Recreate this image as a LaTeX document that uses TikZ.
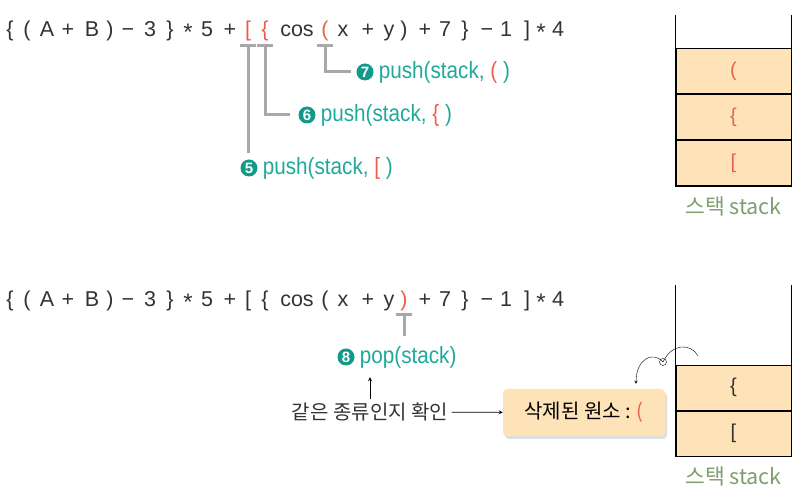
\documentclass[tikz,border=0pt]{standalone}
\usepackage{fontspec}
\setmainfont{Liberation Sans}
\newfontfamily\krfont{Noto Sans CJK KR}
\newfontfamily\condfont[FakeStretch=0.88]{Liberation Sans}
\usepackage{xcolor}
\definecolor{bRed}{HTML}{E8604C}
\definecolor{bTeal}{HTML}{1FA99B}
\definecolor{bDarkTeal}{HTML}{11998A}
\definecolor{bGray}{HTML}{A7A8AA}
\definecolor{bFill}{HTML}{FDE3B7}
\definecolor{bSage}{HTML}{7F9D6F}
\definecolor{bText}{HTML}{333333}
\usepackage{tikz}
\usetikzlibrary{positioning,shadows,arrows,arrows.meta}

\newcommand\tmul{\raisebox{-0.18em}{\fontsize{24}{24}\selectfont*}}

\begin{document}
\begin{tikzpicture}[
            x=1pt, y=-1pt,
            expr/.style={
                anchor=base,
                inner sep=0pt,
                text height=16pt,
                text depth=5pt,
                font=\fontsize{21.5}{24}\selectfont,
                text=bText
            },
            hot/.style={text=bRed},
            tline/.style={
                {Bar[width=16pt]}-,
                draw=bGray,
                line width=3pt
            },
            numdot/.style={
                circle,
                fill=bDarkTeal,
                inner sep=0pt,
                minimum size=17pt,
                text=white,
                font=\fontsize{15}{15}\selectfont\bfseries
            },
            call/.style={
                inner sep=1pt,
                text=bTeal,
                font=\condfont\fontsize{23.5}{26}\selectfont
            },
            cell/.style={
                draw=black,
                line width=0.8pt,
                fill=bFill,
                minimum width=115pt,
                minimum height=45pt,
                font=\fontsize{20}{22}\selectfont
            },
            wall/.style={
                draw=black,
                line width=1.6pt
            },
            stacktitle/.style={
                text=bSage,
                font=\krfont\fontsize{21.5}{24}\selectfont
            },
            krtext/.style={
                text=bText,
                font=\krfont\fontsize{20}{24}\selectfont
            },
            delbox/.style={
                fill=bFill,
                rounded corners=4pt,
                minimum width=162pt,
                minimum height=47pt,
                font=\krfont\fontsize{20}{24}\selectfont,
                drop shadow={opacity=0.25, shadow xshift=2pt, shadow yshift=-3pt}
            },
            arrow/.style={
                ->,
                thick,
                color=black,
                >=stealth
            }
        ]
            \useasboundingbox (0,0) rectangle (804,502);

            % the expression, twice
            \foreach \y in {37,307} {
                \foreach \x/\t in {10/\{, 27/(, 47/A, 68/+, 92/B, 110/), 128/−, 150/3, 170/\}, 188/\tmul, 207/5, 230/+,
                                   297/cos, 343/x, 368/+, 389/y, 425/+, 445/7, 465/\}, 487/−, 506/1, 527/], 541/\tmul, 558/4}
                    \node[expr] at (\x,\y) {\t};
            }
            \node[expr, hot] (lb) at (248,37) {[};
            \node[expr, hot] (lc) at (265,37) {\{};
            \node[expr, hot] (lp) at (325,37) {(};
            \node[expr] at (404,37) {)};
            \node[expr] at (248,307) {[};
            \node[expr] at (265,307) {\{};
            \node[expr] at (325,307) {(};
            \node[expr, hot] (rp) at (404,307) {)};

            % push calls
            \node[numdot] (n5) at (249,168) {5};
            \node[call, right=4pt of n5] (p5) {push(stack, \textcolor{bRed}{[} )};
            \node[numdot] (n6) at (307,115) {6};
            \node[call, right=4pt of n6] (p6) {push(stack, \textcolor{bRed}{\{} )};
            \node[numdot] (n7) at (365,72) {7};
            \node[call, right=4pt of n7] (p7) {push(stack, \textcolor{bRed}{(} )};

            \draw[tline, shorten >=6pt] ([yshift=-2pt]lb.south) -- (lb.south |- n5.north);
            \draw[tline, shorten >=8pt] ([yshift=-2pt]lc.south) |- (n6.west);
            \draw[tline, shorten >=5pt] ([yshift=-2pt]lp.south) |- (n7.west);

            % stack after step 7
            \coordinate (atop) at (733.5,15);
            \node[cell, text=bRed] (a1) at (733.5,163) {[};
            \node[cell, text=bRed, above=0pt of a1] (a2) {\{};
            \node[cell, text=bRed, above=0pt of a2] (a3) {(};
            \draw[wall] (a1.west |- atop) -- (a1.south west) -- (a1.south east) -- (a1.east |- atop);
            \node[stacktitle, below=7pt of a1] (t1) {스택 stack};

            % pop
            \node[numdot] (n8) at (346,357) {8};
            \node[call, right=4pt of n8] (p8) {pop(stack)};
            \draw[tline, shorten >=9pt] ([yshift=-1pt]rp.south) -- (rp.south |- p8.north);

            \node[krtext] (chk) at (370,412) {같은 종류인지 확인};
            \node[delbox] (del) at (584,412.5) {삭제된 원소 : \textcolor{bRed}{(}};
            \draw[arrow, shorten >=8pt] (chk.north) -- (chk.north |- p8.south);
            \draw[arrow] (chk) -- (del);

            % stack after step 8
            \coordinate (btop) at (733.5,285);
            \node[cell, text=bText] (b1) at (733.5,433.5) {[};
            \node[cell, text=bText, above=0pt of b1] (b2) {\{};
            \draw[wall] (b1.west |- btop) -- (b1.south west) -- (b1.south east) -- (b1.east |- btop);
            \node[stacktitle, below=7pt of b1] (t2) {스택 stack};

            \coordinate (lift) at (698,356);
            \draw[thin] (lift) .. controls (691,343) and (672,343) .. (663,362);
            \draw[thin] (663,362) circle[radius=3.5];
            \draw[arrow, thin, shorten >=5pt] (663,362) .. controls (652,350) and (636,360) .. ([xshift=52pt]del.north);
        \end{tikzpicture}
\end{document}
